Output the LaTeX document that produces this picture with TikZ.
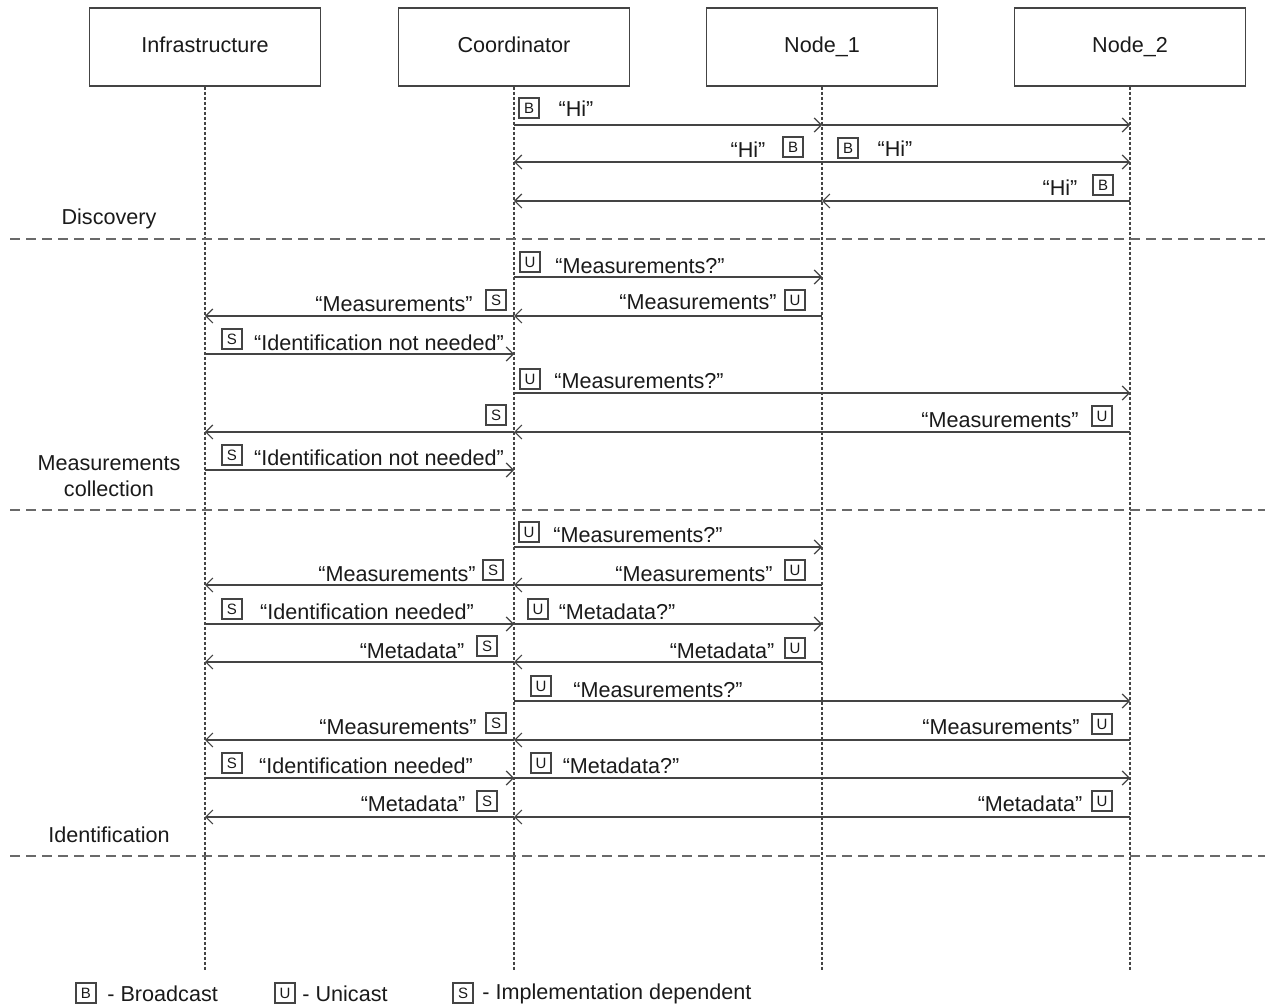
\documentclass[tikz,border=0pt]{standalone}
\usepackage{fontspec}
\setmainfont{Liberation Sans}
\usetikzlibrary{arrows.meta}
\definecolor{ln}{HTML}{444444}
\definecolor{tx}{HTML}{1A1A1A}
\begin{document}
\begin{tikzpicture}[x=0.5pt,y=-0.5pt,
  every node/.style={text=tx},
  actor/.style={draw=ln, line width=0.7pt, minimum width=115.5pt, minimum height=39pt, inner sep=0pt, text height=8pt, text depth=2.5pt, font=\fontsize{10.8}{13}\selectfont},
  lifeline/.style={draw=ln, line width=0.6pt, dash pattern=on 1.5pt off 1pt},
  sep/.style={draw=ln!80, line width=0.8pt, dash pattern=on 5pt off 3pt},
  msg/.style={draw=ln, line width=0.6pt, -{Straight Barb[length=3.5pt,width=7pt]}},
  lbl/.style={font=\fontsize{10.8}{13}\selectfont, inner sep=0pt},
  badge/.style={draw=ln, line width=0.6pt, minimum size=10pt, inner sep=0pt, font=\fontsize{7.5}{8}\selectfont},
  sect/.style={font=\fontsize{10.8}{13}\selectfont, align=center, inner sep=0pt}
]
\useasboundingbox (0,0) rectangle (1265,1005);
% actors
\node[actor] (inf) at (205,47) {Infrastructure};
\node[actor] (co) at (514,47) {Coordinator};
\node[actor] (n1) at (822,47) {Node\_1};
\node[actor] (n2) at (1130,47) {Node\_2};
\coordinate (infE) at (205,970);
\coordinate (coE) at (514,970);
\coordinate (n1E) at (822,970);
\coordinate (n2E) at (1130,970);
\draw[lifeline] (inf.south) -- (infE);
\draw[lifeline] (co.south) -- (coE);
\draw[lifeline] (n1.south) -- (n1E);
\draw[lifeline] (n2.south) -- (n2E);
% separators
\coordinate (s1a) at (10,239); \coordinate (s1b) at (1265,239);
\coordinate (s2a) at (10,510); \coordinate (s2b) at (1265,510);
\coordinate (s3a) at (10,856); \coordinate (s3b) at (1265,856);
\draw[sep] (s1a) -- (s1b);
\draw[sep] (s2a) -- (s2b);
\draw[sep] (s3a) -- (s3b);
% section labels
\node[sect] (secD) at (109,219) {Discovery};
\node[sect] (secM) at (109,476) {Measurements\\collection};
\node[sect] (secI) at (109,835) {Identification};

% ---- Discovery
\draw[msg] (co |- 0,125) -- (n1 |- 0,125);
\draw[msg] (n1 |- 0,125) -- (n2 |- 0,125);
\node[badge] (b1) at (529,108) {B};
\node[lbl] (t1) at (576,109) {“Hi”};

\draw[msg] (n1 |- 0,162) -- (co |- 0,162);
\draw[msg] (n1 |- 0,162) -- (n2 |- 0,162);
\node[lbl] (t2a) at (748,150) {“Hi”};
\node[badge] (b2a) at (793,147) {B};
\node[badge] (b2b) at (848,148) {B};
\node[lbl] (t2b) at (895,149) {“Hi”};

\draw[msg] (n2 |- 0,201) -- (n1 |- 0,201);
\draw[msg] (n1 |- 0,201) -- (co |- 0,201);
\node[lbl] (t3) at (1060,188) {“Hi”};
\node[badge] (b3) at (1103,185) {B};

% ---- Measurements collection
\draw[msg] (co |- 0,277) -- (n1 |- 0,277);
\node[badge] (b4) at (530,262) {U};
\node[lbl] (t4) at (640,266) {“Measurements?”};

\draw[msg] (n1 |- 0,316) -- (co |- 0,316);
\draw[msg] (co |- 0,316) -- (inf |- 0,316);
\node[lbl] (t5a) at (394,304) {“Measurements”};
\node[badge] (b5a) at (496,300) {S};
\node[lbl] (t5b) at (698,302) {“Measurements”};
\node[badge] (b5b) at (795,300) {U};

\draw[msg] (inf |- 0,354) -- (co |- 0,354);
\node[badge] (b6) at (232,339) {S};
\node[lbl] (t6) at (379,343) {“Identification not needed”};

\draw[msg] (co |- 0,393) -- (n2 |- 0,393);
\node[badge] (b7) at (530,379) {U};
\node[lbl] (t7) at (639,381) {“Measurements?”};

\draw[msg] (n2 |- 0,432) -- (co |- 0,432);
\draw[msg] (co |- 0,432) -- (inf |- 0,432);
\node[badge] (b8a) at (496,415) {S};
\node[lbl] (t8) at (1000,420) {“Measurements”};
\node[badge] (b8b) at (1102,416) {U};

\draw[msg] (inf |- 0,470) -- (co |- 0,470);
\node[badge] (b9) at (232,455) {S};
\node[lbl] (t9) at (379,458) {“Identification not needed”};

% ---- Identification
\draw[msg] (co |- 0,547) -- (n1 |- 0,547);
\node[badge] (b10) at (529,532) {U};
\node[lbl] (t10) at (638,535) {“Measurements?”};

\draw[msg] (n1 |- 0,585) -- (co |- 0,585);
\draw[msg] (co |- 0,585) -- (inf |- 0,585);
\node[lbl] (t11a) at (397,574) {“Measurements”};
\node[badge] (b11a) at (493,570) {S};
\node[lbl] (t11b) at (694,574) {“Measurements”};
\node[badge] (b11b) at (795,570) {U};

\draw[msg] (inf |- 0,624) -- (co |- 0,624);
\draw[msg] (co |- 0,624) -- (n1 |- 0,624);
\node[badge] (b12a) at (232,609) {S};
\node[lbl] (t12a) at (367,612) {“Identification needed”};
\node[badge] (b12b) at (538,609) {U};
\node[lbl] (t12b) at (617,612) {“Metadata?”};

\draw[msg] (n1 |- 0,662) -- (co |- 0,662);
\draw[msg] (co |- 0,662) -- (inf |- 0,662);
\node[lbl] (t13a) at (412,651) {“Metadata”};
\node[badge] (b13a) at (487,646) {S};
\node[lbl] (t13b) at (722,651) {“Metadata”};
\node[badge] (b13b) at (795,648) {U};

\draw[msg] (co |- 0,701) -- (n2 |- 0,701);
\node[badge] (b14) at (541,686) {U};
\node[lbl] (t14) at (658,690) {“Measurements?”};

\draw[msg] (n2 |- 0,740) -- (co |- 0,740);
\draw[msg] (co |- 0,740) -- (inf |- 0,740);
\node[lbl] (t15a) at (398,727) {“Measurements”};
\node[badge] (b15a) at (496,723) {S};
\node[lbl] (t15b) at (1001,727) {“Measurements”};
\node[badge] (b15b) at (1102,724) {U};

\draw[msg] (inf |- 0,778) -- (co |- 0,778);
\draw[msg] (co |- 0,778) -- (n2 |- 0,778);
\node[badge] (b16a) at (232,763) {S};
\node[lbl] (t16a) at (366,766) {“Identification needed”};
\node[badge] (b16b) at (541,763) {U};
\node[lbl] (t16b) at (621,766) {“Metadata?”};

\draw[msg] (n2 |- 0,817) -- (co |- 0,817);
\draw[msg] (co |- 0,817) -- (inf |- 0,817);
\node[lbl] (t17a) at (413,804) {“Metadata”};
\node[badge] (b17a) at (487,801) {S};
\node[lbl] (t17b) at (1030,804) {“Metadata”};
\node[badge] (b17b) at (1102,801) {U};

% ---- Legend
\node[badge] (lB) at (86,993) {B};
\node[lbl, anchor=west] (lBt) at (107,994) {- Broadcast};
\node[badge] (lU) at (285,993) {U};
\node[lbl, anchor=west] (lUt) at (302,994) {- Unicast};
\node[badge] (lS) at (463,993) {S};
\node[lbl, anchor=west] (lSt) at (482,994) {- Implementation dependent};
\end{tikzpicture}
\end{document}
